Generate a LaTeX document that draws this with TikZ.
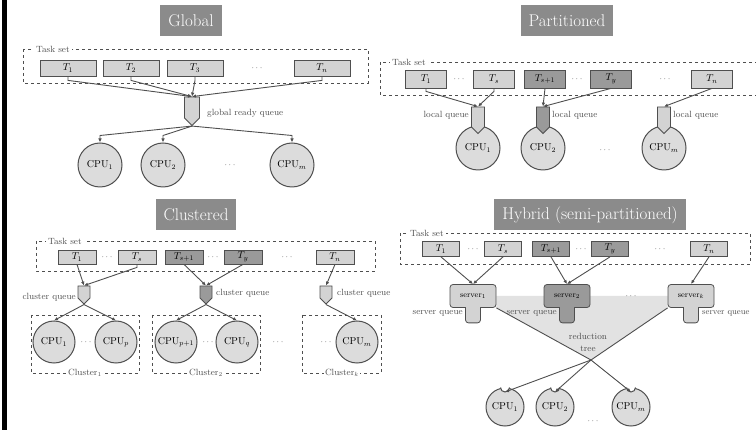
\documentclass[tikz,border=0pt]{standalone}
\usepackage{fontspec}
\usetikzlibrary{shapes.symbols,arrows.meta,backgrounds}
\definecolor{linegray}{HTML}{4F4F4F}
\definecolor{lightfill}{HTML}{D3D3D3}
\definecolor{darkfill}{HTML}{9A9A9A}
\definecolor{cpufill}{HTML}{DCDCDC}
\definecolor{titlegray}{HTML}{8B8B8B}
\definecolor{treefill}{HTML}{E2E2E2}
\begin{document}
\begin{tikzpicture}[x=1pt, y=-1pt, font=\fontsize{9}{10}\selectfont,
    >={Latex[length=4pt,width=3.5pt]},
    titlebox/.style={fill=titlegray, text=white, font=\fontsize{17}{20}\selectfont,
      minimum height=31pt, inner xsep=8pt, inner ysep=0pt},
    taskset/.style={draw=linegray, dashed, line width=0.8pt},
    setlabel/.style={fill=white, text=linegray, anchor=west, inner xsep=2pt, inner ysep=1pt},
    task/.style={draw=linegray, fill=lightfill, line width=0.8pt, inner sep=0pt,
      minimum width=56pt, minimum height=16pt, font=\fontsize{10}{12}\selectfont},
    taskhi/.style={task, fill=darkfill},
    cpu/.style={circle, draw=linegray, fill=cpufill, line width=1pt, inner sep=0pt,
      minimum size=44pt, font=\fontsize{10}{12}\selectfont},
    queue/.style={signal, signal to=south, draw=linegray, fill=lightfill, line width=0.8pt,
      inner sep=0pt, minimum width=15pt, minimum height=21pt},
    queuehi/.style={queue, fill=darkfill},
    server/.style={rounded corners=3pt, draw=linegray, fill=lightfill, line width=0.8pt,
      minimum width=46pt, minimum height=23pt, inner sep=0pt, font=\fontsize{8}{9}\selectfont},
    qlabel/.style={text=linegray, inner sep=1pt},
    ellip/.style={text=linegray},
    link/.style={->, draw=linegray, line width=0.9pt}]

  %% frame
  \useasboundingbox (0,0) rectangle (756,430);
  \clip (0,0) rectangle (756,430);
  \fill[black] (2,0) rectangle (6.5,430);

  %% ---- Global ----
  \node[titlebox] (gTitle) at (191,21) {Global};
  \draw[taskset] (23,49) rectangle (368,83);
  \node[setlabel] (gSet) at (34,49) {Task set};
  \node[task] (gT1) at (68,68) {$T_1$};
  \node[task] (gT2) at (131,68) {$T_2$};
  \node[task] (gT3) at (195,68) {$T_3$};
  \node[ellip] (gTd) at (257,68) {$\cdots$};
  \node[task] (gTn) at (322,68) {$T_n$};
  \node[queue] (gQ) at (192,107.5) {};
  \node[qlabel, anchor=west] (gQl) at (206,113) {global ready queue};
  \node[cpu] (gC1) at (100,165) {CPU$_1$};
  \node[cpu] (gC2) at (163,165) {CPU$_2$};
  \node[ellip] (gCd) at (230,165) {$\cdots$};
  \node[cpu] (gCm) at (292,165) {CPU$_m$};
  \foreach \t in {gT1,gT2,gT3,gTn}
    \draw[link] (\t.south) -- ++(0,4) -- (gQ.north);
  \foreach \c in {gC1,gC2,gCm}
    \draw[link] (gQ.south) -- ([yshift=7pt]\c.north) -- (\c.north);

  %% ---- Partitioned ----
  \node[titlebox] (pTitle) at (567,21) {Partitioned};
  \draw[taskset] (380,62) rectangle (770,95);
  \node[setlabel] (pSet) at (390,62) {Task set};
  \begin{scope}[task/.append style={minimum width=41pt, minimum height=18pt}]
    \node[task] (pT1) at (426,79) {$T_1$};
    \node[ellip] (pTd1) at (459,79) {$\cdots$};
    \node[task] (pTs) at (494,79) {$T_s$};
    \node[taskhi] (pTs1) at (545,79) {$T_{s+1}$};
    \node[ellip] (pTd2) at (577,79) {$\cdots$};
    \node[taskhi] (pTy) at (611,79) {$T_y$};
    \node[ellip] (pTd3) at (665,79) {$\cdots$};
    \node[task] (pTn) at (712,79) {$T_n$};
  \end{scope}
  \node[cpu] (pC1) at (478,148) {CPU$_1$};
  \node[cpu] (pC2) at (543,148) {CPU$_2$};
  \node[ellip] (pCd) at (605,150) {$\cdots$};
  \node[cpu] (pCm) at (664,148) {CPU$_m$};
  \begin{scope}[queue/.append style={minimum width=13pt, minimum height=20pt}]
    \node[queue] (pQ1) at (478,117) {};
    \node[queuehi] (pQ2) at (543,117) {};
    \node[queue] (pQ3) at (664,117) {};
  \end{scope}
  \node[qlabel, anchor=east] (pQ1l) at (470,115) {local queue};
  \node[qlabel, anchor=west] (pQ2l) at (551,115) {local queue};
  \node[qlabel, anchor=west] (pQ3l) at (672,115) {local queue};
  \draw[link] (pT1.south) -- ++(0,3) -- (pQ1.north);
  \draw[link] (pTs.south) -- ++(0,3) -- (pQ1.north);
  \draw[link] (pTs1.south) -- (pQ2.north);
  \draw[link] (pTy.south) -- (pQ2.north);
  \draw[link] (pTn.south) -- (pQ3.north);

  %% ---- Clustered ----
  \node[titlebox] (cTitle) at (196,215) {Clustered};
  \draw[taskset] (36,241) rectangle (375,271);
  \node[setlabel] (cSet) at (46,241) {Task set};
  \begin{scope}[task/.append style={minimum width=38pt, minimum height=14pt}]
    \node[task] (cT1) at (77,257) {$T_1$};
    \node[ellip] (cTd1) at (107,257) {$\cdots$};
    \node[task] (cTs) at (137,257) {$T_s$};
    \node[taskhi] (cTs1) at (184,257) {$T_{s+1}$};
    \node[ellip] (cTd2) at (213,257) {$\cdots$};
    \node[taskhi] (cTy) at (243,257) {$T_y$};
    \node[ellip] (cTd3) at (287,257) {$\cdots$};
    \node[task] (cTn) at (335,257) {$T_n$};
  \end{scope}
  %% clusters
  \draw[taskset] (31,315) rectangle (139,373);
  \draw[taskset] (152,315) rectangle (260,373);
  \draw[taskset] (302,315) rectangle (381,373);
  \node[qlabel, fill=white] (cK1) at (85,373) {Cluster$_1$};
  \node[qlabel, fill=white] (cK2) at (206,373) {Cluster$_2$};
  \node[qlabel, fill=white] (cKk) at (342,373) {Cluster$_k$};
  \begin{scope}[cpu/.append style={minimum size=42pt}]
    \node[cpu] (cC1) at (54,342) {CPU$_1$};
    \node[ellip] (cCd1) at (86,342) {$\cdots$};
    \node[cpu] (cCp) at (116,342) {CPU$_p$};
    \node[cpu] (cCp1) at (176,342) {CPU$_{p+1}$};
    \node[ellip] (cCd2) at (208,342) {$\cdots$};
    \node[cpu] (cCq) at (237,342) {CPU$_q$};
    \node[ellip] (cKd) at (278,342) {$\cdots$};
    \node[ellip] (cCd3) at (326,342) {$\cdots$};
    \node[cpu] (cCm) at (357,342) {CPU$_m$};
  \end{scope}
  \begin{scope}[queue/.append style={minimum width=12pt, minimum height=12pt}]
    \node[queue] (cQ1) at (84,292) {};
    \node[queuehi] (cQ2) at (206,292) {};
    \node[queue] (cQ3) at (326,292) {};
  \end{scope}
  \node[qlabel, anchor=east] (cQ1l) at (77,297) {cluster queue};
  \node[qlabel, anchor=west] (cQ2l) at (215,293) {cluster queue};
  \node[qlabel, anchor=west] (cQ3l) at (336,293) {cluster queue};
  \draw[link] (cT1.south) -- (cQ1.north);
  \draw[link] (cTs.south) -- ++(0,3) -- (cQ1.north);
  \draw[link] (cTs1.south) -- (cQ2.north);
  \draw[link] (cTy.south) -- (cQ2.north);
  \draw[link] (cTn.south) -- (cQ3.north);
  \foreach \q/\c in {cQ1/cC1, cQ1/cCp, cQ2/cCp1, cQ2/cCq, cQ3/cCm}
    \draw[link] (\q.south) -- (\c.north);

  %% ---- Hybrid ----
  \node[titlebox] (hTitle) at (590,215) {Hybrid (semi-partitioned)};
  \draw[taskset] (400,233) rectangle (750,264);
  \node[setlabel] (hSet) at (408,233) {Task set};
  \begin{scope}[task/.append style={minimum width=37pt, minimum height=15pt}]
    \node[task] (hT1) at (441,249) {$T_1$};
    \node[ellip] (hTd1) at (473,249) {$\cdots$};
    \node[task] (hTs) at (503,249) {$T_s$};
    \node[taskhi] (hTs1) at (551,249) {$T_{s+1}$};
    \node[ellip] (hTd2) at (581,249) {$\cdots$};
    \node[taskhi] (hTy) at (610,249) {$T_y$};
    \node[ellip] (hTd3) at (660,249) {$\cdots$};
    \node[task] (hTn) at (709,249) {$T_n$};
  \end{scope}
  \foreach \n/\x/\f in {1/473/lightfill, 2/567/darkfill, k/691/lightfill} {
    \node[server, fill=\f] (hS\n) at (\x,296) {server$_\n$};
    \filldraw[draw=linegray, fill=\f, line width=0.8pt, rounded corners=3pt]
      ([xshift=-7.5pt]hS\n.south) -- ++(0,15) -- ++(15,0) -- ++(0,-15);
    \fill[\f] ([xshift=-7pt,yshift=1.5pt]hS\n.south) rectangle ([xshift=7pt,yshift=-3pt]hS\n.south);
  }
  \node[ellip] (hSd) at (631,296) {$\cdots$};
  \coordinate (hX) at (591,360);
  \begin{scope}[on background layer]
    \fill[treefill] (hS1.east) -- (hSk.west) -- (hSk.south west) -- (hX) -- (hS1.south east) -- cycle;
  \end{scope}
  \node[qlabel, anchor=east] (hS1l) at (464,313) {server queue};
  \node[qlabel, anchor=east] (hS2l) at (558,313) {server queue};
  \node[qlabel, anchor=west, font=\fontsize{8.5}{10}\selectfont] (hSkl) at (701,313) {server queue};
  \node[qlabel, align=center] (hRed) at (588,342) {reduction\\[2pt]tree};
  \begin{scope}[cpu/.append style={minimum size=38pt}]
    \node[cpu] (hC1) at (505,407) {CPU$_1$};
    \node[cpu] (hC2) at (555,407) {CPU$_2$};
    \node[ellip] (hCd) at (593,421) {$\cdots$};
    \node[cpu] (hCm) at (631,407) {CPU$_m$};
  \end{scope}
  \foreach \c in {hC1,hC2,hCm} {
    \fill[white] (\c.north) circle (4.5);
    \draw[linegray, line width=1pt] (\c.north) ++(4.5,0) arc[start angle=0, end angle=180, radius=4.5];
  }
  \draw[link] (hT1.south) -- (hS1.north);
  \draw[link] (hTs.south) -- (hS1.north);
  \draw[link] (hTs1.south) -- (hS2.north);
  \draw[link] (hTy.south) -- (hS2.north);
  \draw[link] (hTn.south) -- (hSk.north);
  \draw[link] (hS1.south east) -- (hX) -- ([yshift=-4.5pt]hCm.north);
  \draw[link] (hSk.south west) -- (hX) -- ([yshift=-4.5pt]hC1.north);
  \draw[link] (hX) -- ([yshift=-4.5pt]hC2.north);

\end{tikzpicture}
\end{document}
